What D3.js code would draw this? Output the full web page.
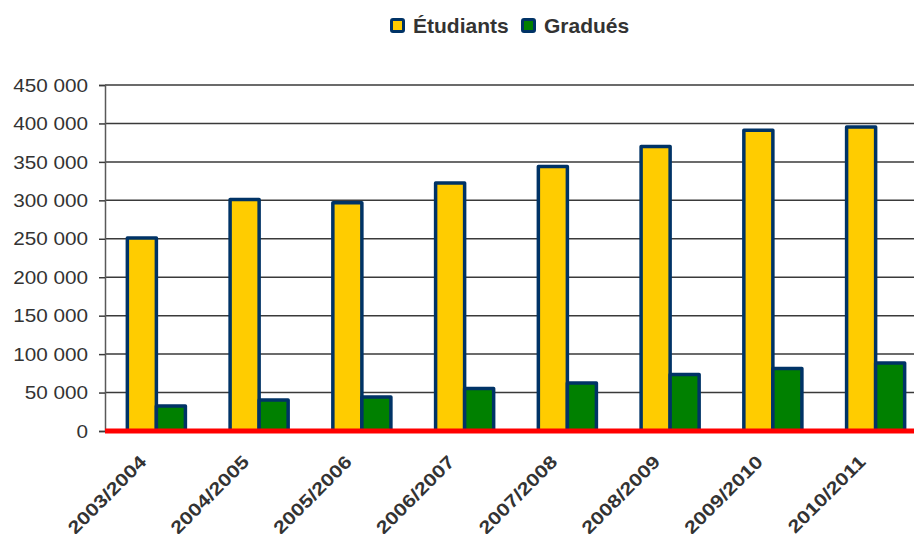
<!DOCTYPE html>
<html>
<head>
<meta charset="utf-8">
<script src="https://cdn.jsdelivr.net/npm/d3@7"></script>
<style>
  body { margin: 0; background: #fff; }
  svg { display: block; font-family: "Liberation Sans", Arial, sans-serif; }
</style>
</head>
<body>
<div id="chart"></div>
<script>
// données
const annees = ["2003/2004", "2004/2005", "2005/2006", "2006/2007", "2007/2008", "2008/2009", "2009/2010", "2010/2011"];
const etudiants = [251000, 301000, 297000, 322500, 344000, 370000, 391000, 395500];
const gradues = [32500, 40300, 44300, 55300, 62500, 73500, 81300, 88400];
const series = ["Étudiants", "Gradués"];
const couleurs = ["#ffcc00", "#008000"];
const yTicks = [0, 50000, 100000, 150000, 200000, 250000, 300000, 350000, 400000, 450000];

const width = 914;
const height = 534;
const margeG = 105, haut = 85, bas = 431, droite = 927;

const svg = d3.select("#chart")
    .append("svg")
    .attr("width", width)
    .attr("height", height);

const x0 = d3.scaleBand()
    .domain(annees)
    .range([margeG, droite])
    .paddingInner(0.435)
    .paddingOuter(0.2175);

const x1 = d3.scaleBand()
    .domain(series)
    .range([0, x0.bandwidth()]);

const y = d3.scaleLinear()
    .domain([0, 450000])
    .range([bas, haut]);

const fmt = v => d3.format(",")(v).replace(/,/g, " ");

// grille
svg.append("g")
    .selectAll("line")
    .data(yTicks.slice(1))
    .enter().append("line")
    .attr("x1", margeG)
    .attr("x2", width)
    .attr("y1", d => y(d))
    .attr("y2", d => y(d))
    .attr("stroke", "#3a3a3a")
    .attr("stroke-width", 1.5);

// axe Y
const yAxis = svg.append("g")
    .attr("transform", `translate(${margeG},0)`)
    .call(d3.axisLeft(y).tickValues(yTicks).tickSize(6).tickFormat(""));
yAxis.select(".domain").attr("stroke", "#595959").attr("stroke-width", 1.5);
yAxis.selectAll(".tick line").attr("stroke", "#3a3a3a").attr("stroke-width", 1.5);

svg.append("g")
    .selectAll("text")
    .data(yTicks)
    .enter().append("text")
    .attr("transform", d => `translate(88,${y(d)}) scale(1.12,1)`)
    .attr("dy", "0.36em")
    .attr("text-anchor", "end")
    .attr("font-size", 18.5)
    .attr("fill", "#333")
    .text(d => fmt(d));

// barres
const rows = annees.map((a, i) => ({ annee: a, valeurs: [etudiants[i], gradues[i]] }));

svg.append("g")
    .selectAll("g")
    .data(rows)
    .enter().append("g")
    .attr("transform", d => `translate(${x0(d.annee)},0)`)
    .selectAll("rect")
    .data(d => d.valeurs.map((v, j) => ({ serie: series[j], v: v, c: couleurs[j] })))
    .enter().append("rect")
    .attr("x", d => x1(d.serie))
    .attr("y", d => y(d.v))
    .attr("width", x1.bandwidth())
    .attr("height", d => y(0) - y(d.v))
    .attr("fill", d => d.c)
    .attr("stroke", "#003366")
    .attr("stroke-width", 3.5)
    .attr("stroke-linejoin", "round");

// ligne de base rouge
svg.append("line")
    .attr("x1", margeG)
    .attr("x2", width)
    .attr("y1", y(0))
    .attr("y2", y(0))
    .attr("stroke", "#ff0000")
    .attr("stroke-width", 5);

// étiquettes X
svg.append("g")
    .selectAll("text")
    .data(annees)
    .enter().append("text")
    .attr("transform", d => `translate(${x0(d) + x0.bandwidth() / 2 - 9},463) rotate(-45) scale(1.2,1)`)
    .attr("text-anchor", "end")
    .attr("font-size", 18)
    .attr("font-weight", "bold")
    .attr("fill", "#333")
    .text(d => d);

// légende
const legende = svg.append("g");
const legX = [391.5, 522.5];
series.forEach((s, i) => {
    legende.append("rect")
        .attr("x", legX[i])
        .attr("y", 19.5)
        .attr("width", 12)
        .attr("height", 12)
        .attr("rx", 1.5)
        .attr("fill", couleurs[i])
        .attr("stroke", "#003366")
        .attr("stroke-width", 3);
    legende.append("text")
        .attr("x", legX[i] + 21.5)
        .attr("y", 32.7)
        .attr("font-size", 21)
        .attr("font-weight", "bold")
        .attr("fill", "#333")
        .text(s);
});
</script>
</body>
</html>
